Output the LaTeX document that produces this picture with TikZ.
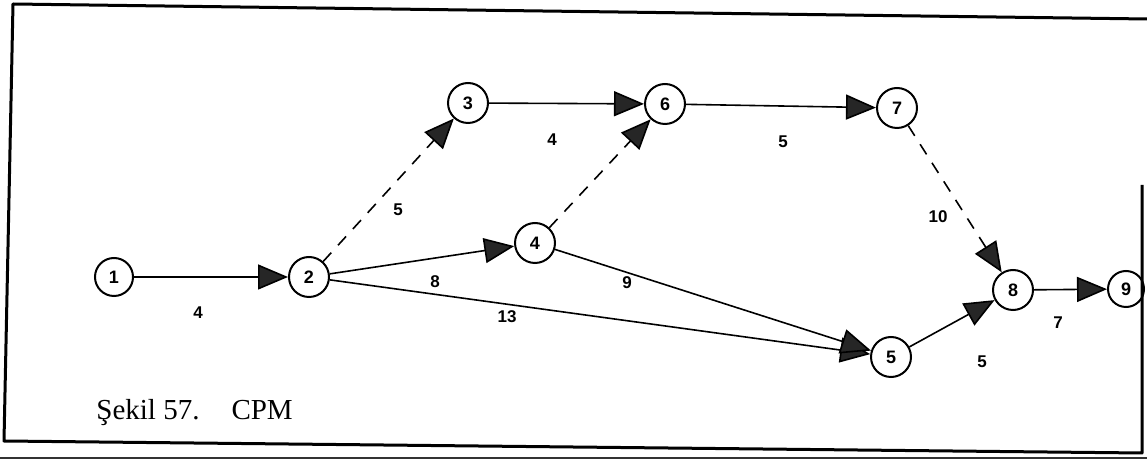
\documentclass[tikz,border=0pt]{standalone}
\usepackage{fontspec}
\setmainfont{Liberation Serif}
\setsansfont{Liberation Sans}
\usetikzlibrary{arrows.meta}
\tikzset{
  event/.style={
    circle, draw, line width=1pt, minimum size=20pt, inner sep=0pt,
    font=\sffamily\bfseries\fontsize{9}{9}\selectfont
  },
  activity/.style={
    -{Triangle[length=15pt, width=12.5pt, fill=black!85]}, line width=0.8pt
  },
  dummy/.style={
    activity, dash pattern=on 6pt off 5pt
  },
  duration/.style={
    font=\sffamily\bfseries\fontsize{8.5}{8.5}\selectfont, inner sep=1pt
  }
}
\begin{document}
\begin{tikzpicture}[x=0.5pt, y=-0.5pt]
  \useasboundingbox (0,0) rectangle (1147,459);

  % Frame (slightly skewed scan)
  \draw[line width=1.5pt, line join=round]
    (1147,19) -- (13,4) -- (4,441) -- (1142,453) -- (1142,185);
  \draw[line width=1pt, black!80] (0,458) -- (1147,458);

  % Events
  \node[event, minimum size=19pt] (e1) at (114,277) {1};
  \node[event] (e2) at (309,277) {2};
  \node[event] (e3) at (468,103) {3};
  \node[event] (e4) at (535,243) {4};
  \node[event] (e6) at (665,104) {6};
  \node[event] (e7) at (897,108) {7};
  \node[event] (e5) at (891,357) {5};
  \node[event] (e8) at (1013,290) {8};
  \node[event, minimum size=18pt] (e9) at (1126,289) {9};

  % Activities
  \draw[activity] (e1) -- (e2);
  \draw[dummy] (e2) -- (e3);
  \draw[activity] (e2) -- (e4);
  \draw[activity] (e2) -- (e5);
  \draw[activity] (e3) -- (e6);
  \draw[dummy] (e4) -- (e6);
  \draw[activity] (e4) -- (e5);
  \draw[activity] (e6) -- (e7);
  \draw[dummy] (e7) -- (e8);
  \draw[activity] (e5) -- (e8);
  \draw[activity] (e8) -- (e9);

  % Durations
  \node[duration] (d12) at (198,313) {4};
  \node[duration] (d23) at (398,210) {5};
  \node[duration] (d24) at (435,282) {8};
  \node[duration] (d25) at (507,317) {13};
  \node[duration] (d36) at (552,140) {4};
  \node[duration] (d45) at (627,283) {9};
  \node[duration] (d67) at (783,142) {5};
  \node[duration] (d78) at (938,217) {10};
  \node[duration] (d58) at (982,362) {5};
  \node[duration] (d89) at (1058,323) {7};

  % Caption
  \node[anchor=base west, inner sep=0pt, font=\fontsize{14.5}{14.5}\selectfont]
    (cap) at (96,420) {Şekil 57.\hspace{16pt}CPM};
\end{tikzpicture}
\end{document}
